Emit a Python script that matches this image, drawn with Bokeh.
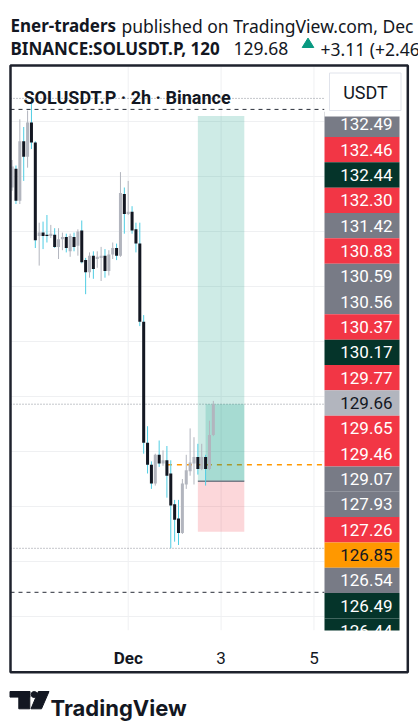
from bokeh.plotting import figure
from bokeh.models import Range1d
from bokeh.layouts import column
from bokeh.core.properties import value
from bokeh.embed import file_html
from bokeh.resources import INLINE

# ---------------- data ----------------
# 2h bars, index 0 = Dec 1 00:00
bar_index = list(range(-30, 23))
opens = [131.65, 131.82, 131.53, 132.07, 131.93, 132.24, 132.06, 131.21, 131.24, 131.22,
         131.21, 131.22, 131.11, 131.18, 131.20, 131.07, 131.20, 131.12, 131.26, 130.99,
         130.88, 131.03, 131.00, 131.01, 131.03, 130.89, 131.04, 131.10, 131.03, 131.59,
         131.41, 131.43, 131.27, 131.14, 130.43, 129.33, 129.13, 128.96, 129.22, 129.14,
         129.17, 129.05, 128.77, 128.64, 128.51, 128.95, 129.07, 129.14, 129.20, 129.09,
         129.20, 129.09, 129.40]
highs = [131.90, 131.85, 132.27, 132.20, 132.35, 132.46, 132.07, 131.33, 131.34, 131.40,
         131.31, 131.28, 131.28, 131.24, 131.23, 131.23, 131.24, 131.27, 131.35, 131.01,
         131.06, 131.07, 131.07, 131.11, 131.09, 131.08, 131.15, 131.14, 131.79, 131.65,
         131.71, 131.48, 131.33, 131.33, 130.49, 129.48, 129.16, 129.23, 129.35, 129.26,
         129.30, 129.17, 128.81, 128.81, 129.00, 129.22, 129.46, 129.38, 129.32, 129.32,
         129.22, 129.53, 129.71]
lows = [131.62, 131.50, 131.50, 131.71, 131.83, 132.00, 131.10, 130.94, 131.09, 131.15,
        131.19, 131.10, 131.00, 131.08, 131.06, 131.02, 131.07, 131.03, 130.96, 130.68,
        130.83, 130.82, 130.92, 130.80, 130.83, 130.85, 131.00, 130.99, 131.02, 131.23,
        131.40, 131.23, 131.06, 130.39, 129.23, 129.05, 128.91, 128.94, 129.11, 129.12,
        128.83, 128.37, 128.43, 128.40, 128.50, 128.91, 129.03, 128.95, 129.04, 129.08,
        128.94, 129.08, 129.39]
closes = [131.84, 131.53, 132.07, 131.93, 132.24, 132.06, 131.17, 131.24, 131.21, 131.21,
          131.23, 131.11, 131.18, 131.20, 131.10, 131.21, 131.11, 131.25, 130.97, 130.88,
          131.03, 130.91, 131.02, 131.03, 130.89, 131.04, 131.10, 131.03, 131.60, 131.41,
          131.43, 131.26, 131.14, 130.43, 129.33, 129.13, 128.96, 129.22, 129.14, 129.17,
          129.03, 128.76, 128.63, 128.51, 128.96, 129.08, 129.15, 129.20, 129.09, 129.20,
          129.09, 129.40, 129.68]

time_ticks = [0, 24, 48]
time_labels = ["Dec", "3", "5"]
grid_prices = [132.25, 131.75, 131.25, 130.75, 130.25, 129.75, 129.25, 128.75, 128.25, 127.75]

high_line = 132.46
low_line = 128.37
last_price = 129.68
dashed_lines = [132.36, 127.97]
orange_line = 129.13
orange_start = 10

pos_start, pos_profit_start, pos_end = 18, 20, 30
pos_target, pos_entry, pos_stop = 132.30, 128.98, 128.52

tag_values = ["132.49", "132.46", "132.44", "132.30", "131.42", "130.83", "130.59", "130.56",
              "130.37", "130.17", "129.77", "129.66", "129.65", "129.46", "129.07", "127.93",
              "127.26", "126.85", "126.54", "126.49", "126.44"]
tag_kinds = ["gray", "red", "dark", "red", "gray", "red", "gray", "gray", "red", "dark", "red",
             "light", "red", "red", "gray", "gray", "red", "orange", "gray", "dark", "dark"]

# ---------------- styles ----------------
UP_BODY = "#b2b5be"
UP_WICK = "#b2b5be"
DN_BODY = "#131722"
DN_WICK = "#4fcde3"
TEXT = "#131722"
GRID = "#eff0f2"
BORDER = "#1e222d"
tag_fill = {"gray": "#787b86", "red": "#f23645", "dark": "#05342a", "light": "#b2b5be", "orange": "#ff9800"}
tag_text = {"gray": "white", "red": "white", "dark": "white", "light": "#131722", "orange": "#131722"}

W = 418
# main figure covers page y 63..675 ; page x 0..418
PX0, PX1 = 0, W
PY_TOP, PY_BOT = 63, 675
BAR0_X, BAR_W = 127.7, 3.87          # page x of bar 0 and pixels per bar
PRICE_AT_Y0, PX_PER_PRICE = 133.35, 110.0


def bar_of(x):
    return (x - BAR0_X) / BAR_W


def price_of(y):
    return PRICE_AT_Y0 - y / PX_PER_PRICE


# ---------------- header ----------------
h = figure(width=W, height=PY_TOP, x_range=Range1d(0, W), y_range=Range1d(PY_TOP, 0),
           x_axis_type=None, y_axis_type=None, toolbar_location=None, output_backend="svg",
           min_border=0, outline_line_color=None)
hf = value("Noto Sans")
h.text(x=[10], y=[25], text=["Ener-traders"], text_font=hf, text_font_size="17px",
       text_font_style="bold", text_color=TEXT, text_baseline="alphabetic")
h.text(x=[121], y=[25], text=["published on TradingView.com, Dec"], text_font=hf,
       text_font_size="17.5px", text_color=TEXT, text_baseline="alphabetic")
h.text(x=[10], y=[48.3], text=["BINANCE:SOLUSDT.P, 120"], text_font=hf, text_font_size="17px",
       text_font_style="bold", text_color=TEXT, text_baseline="alphabetic")
h.text(x=[233], y=[48.3], text=["129.68"], text_font=hf, text_font_size="17.5px",
       text_color=TEXT, text_baseline="alphabetic")
h.patch(x=[301.7, 313.3, 307.5], y=[47.0, 47.0, 37.6], color="#089981")
h.text(x=[320], y=[48.3], text=["+3.11 (+2.46%)"], text_font=hf, text_font_size="17.5px",
       text_color=TEXT, text_baseline="alphabetic")

# ---------------- main chart ----------------
p = figure(width=W, height=PY_BOT - PY_TOP,
           x_range=Range1d(bar_of(PX0), bar_of(PX1)),
           y_range=Range1d(price_of(PY_BOT), price_of(PY_TOP)),
           x_axis_type=None, y_axis_type=None, toolbar_location=None, output_backend="svg",
           min_border=0, background_fill_color="white", border_fill_color="white",
           outline_line_color=None)
p.extra_x_ranges = {"px": Range1d(PX0, PX1)}
p.extra_y_ranges = {"py": Range1d(PY_BOT, PY_TOP)}

tag_left, tag_right = 324, 399
# grid
p.segment(x0=10, x1=tag_left, y0=grid_prices, y1=grid_prices, x_range_name="px",
          line_color=GRID, line_width=1)
p.segment(x0=time_ticks, x1=time_ticks, y0=66, y1=630, y_range_name="py",
          line_color=GRID, line_width=1)

# level lines
p.segment(x0=10, x1=tag_left, y0=[high_line, last_price, low_line],
          y1=[high_line, last_price, low_line], x_range_name="px",
          line_color="#8a8d96", line_width=1, line_dash="1 2")
p.segment(x0=10, x1=tag_left, y0=dashed_lines, y1=dashed_lines, x_range_name="px",
          line_color="#2a2e39", line_width=1, line_dash="4 4")
p.segment(x0=[orange_start], x1=[bar_of(tag_left)], y0=[orange_line], y1=[orange_line],
          line_color="#ff9800", line_width=1.5, line_dash="5 5")

# position tool
p.quad(left=[pos_start], right=[pos_end], top=[pos_target], bottom=[pos_entry],
       fill_color="#089981", fill_alpha=0.2, line_color=None)
p.quad(left=[pos_start], right=[pos_end], top=[pos_entry], bottom=[pos_stop],
       fill_color="#f23645", fill_alpha=0.2, line_color=None)
p.quad(left=[pos_profit_start], right=[pos_end], top=[last_price], bottom=[pos_entry],
       fill_color="#089981", fill_alpha=0.2, line_color=None)
p.segment(x0=[pos_start], x1=[pos_end], y0=[pos_entry], y1=[pos_entry],
          line_color="#787b86", line_width=1.5)

# candles
up = [c >= o for o, c in zip(opens, closes)]
for is_up, body, wick in [(True, UP_BODY, UP_WICK), (False, DN_BODY, DN_WICK)]:
    idx = [i for i in range(len(bar_index)) if up[i] == is_up]
    xs = [bar_index[i] for i in idx]
    p.segment(x0=xs, x1=xs, y0=[lows[i] for i in idx], y1=[highs[i] for i in idx],
              line_color=wick, line_width=1)
    p.vbar(x=xs, width=0.78, top=[max(opens[i], closes[i]) for i in idx],
           bottom=[min(opens[i], closes[i]) for i in idx], fill_color=body, line_color=None)

# price tags (stacked)
tag_y = [123.8 + 25.34 * i for i in range(len(tag_values))]
p.quad(left=tag_left, right=tag_right, top=[y - 12.67 for y in tag_y],
       bottom=[y + 12.67 for y in tag_y],
       fill_color=[tag_fill[k] for k in tag_kinds], line_color=None,
       x_range_name="px", y_range_name="py")
p.text(x=392, y=tag_y, text=tag_values, text_color=[tag_text[k] for k in tag_kinds],
       text_font=value("Roboto"), text_font_size="17px", text_align="right",
       text_baseline="middle", x_range_name="px", y_range_name="py")

# covers: above tag column and time-axis band
p.quad(left=[tag_left], right=[406], top=[66], bottom=[116], fill_color="white",
       line_color=None, x_range_name="px", y_range_name="py")
p.quad(left=[11], right=[406], top=[630], bottom=[671], fill_color="white",
       line_color=None, x_range_name="px", y_range_name="py")

# currency button
p.quad(left=[329], right=[400.5], top=[72.5], bottom=[110], fill_color="white",
       line_color="#e0e3eb", line_width=1, x_range_name="px", y_range_name="py")
p.text(x=[365], y=[91.5], text=["USDT"], text_font=value("Roboto"), text_font_size="18px",
       text_color=TEXT, text_align="center", text_baseline="middle",
       x_range_name="px", y_range_name="py")

# legend
p.text(x=[23], y=[97], text=["SOLUSDT.P · 2h · Binance"], text_font=value("Roboto"),
       text_font_size="18px", text_font_style="bold", text_color=TEXT,
       text_baseline="alphabetic", x_range_name="px", y_range_name="py")

# time labels
p.text(x=time_ticks[:1], y=[657], text=time_labels[:1], text_font=value("Roboto"),
       text_font_size="17px", text_font_style="bold", text_color=TEXT, text_align="center",
       text_baseline="alphabetic", y_range_name="py")
p.text(x=time_ticks[1:], y=[657, 657], text=time_labels[1:], text_font=value("Roboto"),
       text_font_size="17px", text_color=TEXT, text_align="center",
       text_baseline="alphabetic", y_range_name="py")

# chart border
p.quad(left=[10], right=[407.3], top=[65], bottom=[671.7], fill_color=None,
       line_color=BORDER, line_width=2.5, x_range_name="px", y_range_name="py")

# ---------------- footer ----------------
f = figure(width=W, height=728 - PY_BOT, x_range=Range1d(0, W), y_range=Range1d(728, PY_BOT),
           x_axis_type=None, y_axis_type=None, toolbar_location=None, output_backend="svg",
           min_border=0, outline_line_color=None)
f.quad(left=[9.5, 18.3], right=[29.3, 29.3], top=[691.0, 691.0], bottom=[696.6, 708.3],
       color=TEXT)
f.circle(x=[33.7], y=[694.0], radius=3.0, color=TEXT)
f.patch(x=[37.8, 48.5, 41.0, 30.5], y=[691.0, 691.0, 708.3, 708.3], color=TEXT)
f.text(x=[50], y=[707], text=["TradingView"], text_font=value("Inter"), text_font_size="22px",
       text_font_style="bold", text_color=TEXT, text_baseline="alphabetic")

layout = column(h, p, f, spacing=0)
open("out.html", "w").write(file_html(layout, INLINE))
